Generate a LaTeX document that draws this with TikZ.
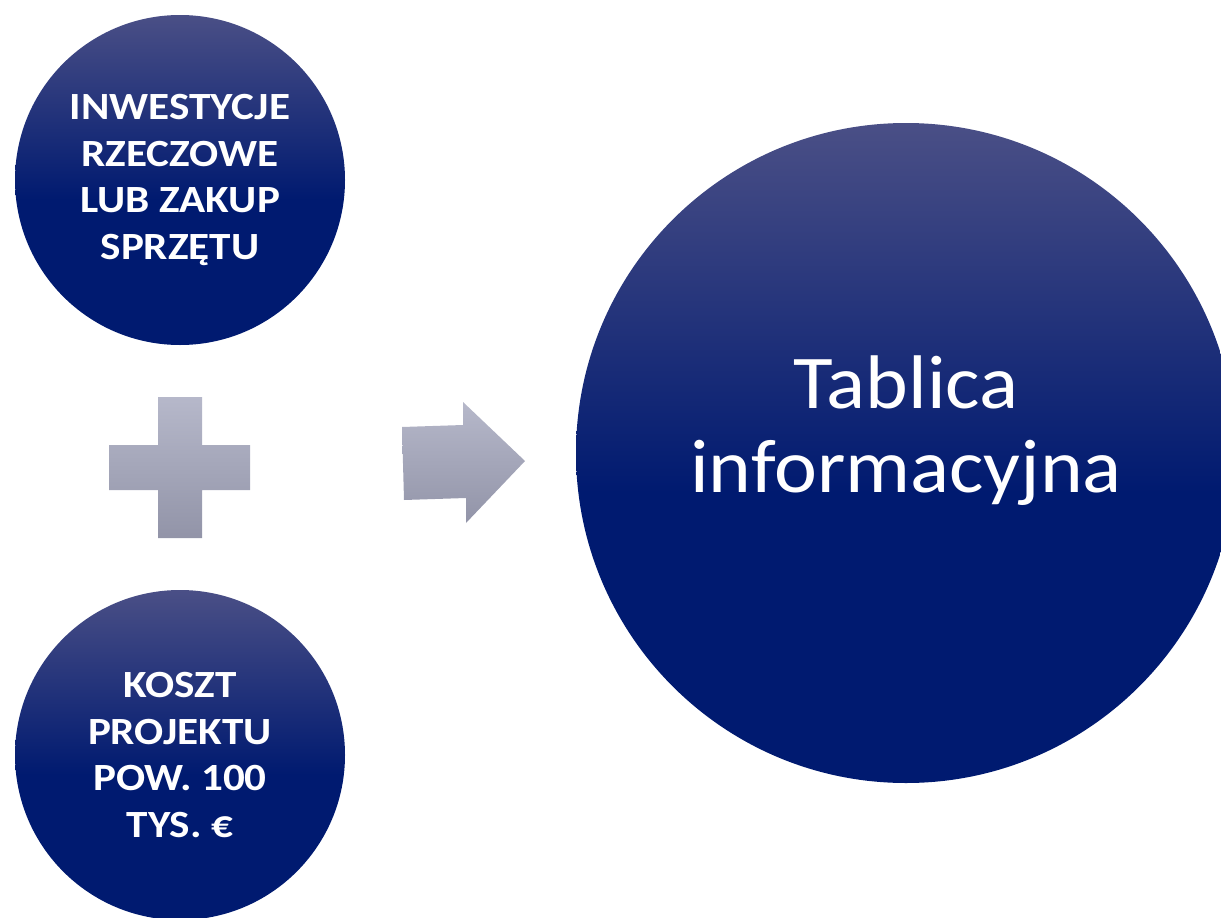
\documentclass[tikz,border=0pt]{standalone}
\usepackage{fontspec}
\setmainfont{Carlito}
\newfontfamily\widefont[FakeStretch=1.12]{Carlito}
\newfontfamily\bigfont[FakeStretch=1.07]{Carlito}
\usepackage{tikz}

\definecolor{navydark}{HTML}{001A70}
\definecolor{navytop}{HTML}{4A4F86}
\definecolor{graytop}{HTML}{B6B8CA}
\definecolor{graybot}{HTML}{9294A8}
\pgfdeclareverticalshading{discshade}{100bp}{color(0bp)=(navydark); color(47bp)=(navydark); color(75bp)=(navytop); color(100bp)=(navytop)}

\tikzset{
 disc/.style={circle, inner sep=0pt, shade, shading=discshade, text=white, align=center},
 small disc/.style={disc, minimum size=330pt, font=\widefont\fontsize{38.5}{46.5}\selectfont\bfseries},
 big disc/.style={disc, minimum size=660pt},
 big text/.style={text=white, align=center, font=\bigfont\fontsize{76}{84}\selectfont},
 sign/.style={top color=graytop, bottom color=graybot}
}

\begin{document}
\begin{tikzpicture}[x=1pt,y=-1pt]
 \useasboundingbox (0,0) rectangle (1221,918);

 \node[small disc] (inwest) at (180,180) {INWESTYCJE\\RZECZOWE\\LUB ZAKUP\\SPRZĘTU};
 \node[small disc] (koszt) at (180,755) {KOSZT\\PROJEKTU\\POW. 100\\TYS. €};
 \node[big disc] (tablica) at (906,453) {};
 \node[big text] (tablicatxt) at ([yshift=22pt]tablica.center) {Tablica\\informacyjna};

 % plus
 \shade[sign] (158,397) -- (202,397) -- (202,445) -- (250,445) -- (250,490) -- (202,490)
   -- (202,538) -- (158,538) -- (158,490) -- (109,490) -- (109,445) -- (158,445) -- cycle;

 % arrow
 \shade[sign] (402,427) -- (463,425) -- (463,402) -- (525,461) -- (466,523) -- (466,498)
   -- (404,500) -- cycle;

\end{tikzpicture}
\end{document}
